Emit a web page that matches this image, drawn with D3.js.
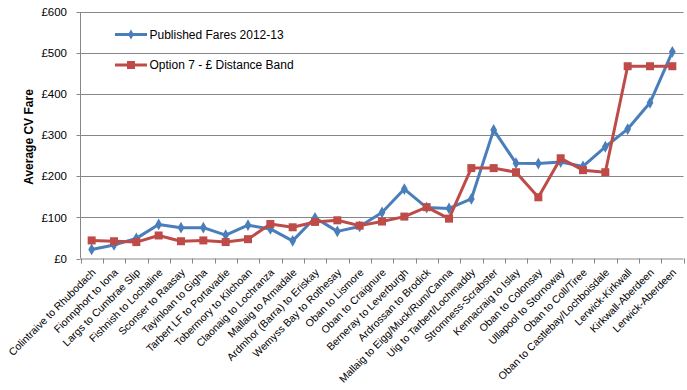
<!DOCTYPE html>
<html><head><meta charset="utf-8">
<script src="https://cdn.jsdelivr.net/npm/d3@7"></script>
<style>body{margin:0;background:#fff}svg{display:block;font-family:"Liberation Sans",Arial,sans-serif}</style>
</head><body><svg id="c" width="687" height="390"></svg>
<script>
const categories = ["Colintraive to Rhubodach","Fionnphort to Iona","Largs to Cumbrae Slip","Fishnish to Lochaline","Sconser to Raasay","Tayinloan to Gigha","Tarbert LF to Portavadie","Tobermory to Kilchoan","Claonaig to Lochranza","Mallaig to Armadale","Ardmhor (Barra) to Eriskay","Wemyss Bay to Rothesay","Oban to Lismore","Oban to Craignure","Berneray to Leverburgh","Ardrossan to Brodick","Mallaig to Eigg/Muck/Rum/Canna","Uig to Tarbert/Lochmaddy","Stromness-Scrabster","Kennacraig to Islay","Oban to Colonsay","Ullapool to Stornoway","Oban to Coll/Tiree","Oban to Castlebay/Lochboisdale","Lerwick-Kirkwall","Kirkwall-Aberdeen","Lerwick-Aberdeen"];
const publishedFares = [22,33,49,83,75,75,57,81,72,43,99,66,78,112,169,124,122,145,313,232,231,235,224,272,315,379,503];
const option7 = [44,42,40,56,42,44,40,47,84,76,89,93,80,90,102,125,97,220,220,210,149,244,215,210,468,468,468];
const yTicks = [0,100,200,300,400,500,600];
const seriesNames = ["Published Fares 2012-13","Option 7 - £ Distance Band"];

const svg = d3.select("#c");
const pLeft = 80.5, pRight = 683.5, pTop = 12, pBottom = 258.5;
const x = d3.scaleBand().domain(categories).range([pLeft, pRight]).padding(0);
const y = d3.scaleLinear().domain([0,600]).range([pBottom, pTop]);
const grid = "#878787";

// gridlines
svg.append("g").selectAll("line").data(yTicks.filter(d=>d>0)).join("line")
  .attr("x1", pLeft).attr("x2", pRight)
  .attr("y1", d=>Math.round(y(d))+0.5).attr("y2", d=>Math.round(y(d))+0.5)
  .attr("stroke", grid).attr("stroke-width",1);

// y axis
const yAxis = svg.append("g");
yAxis.append("line").attr("x1",pLeft).attr("x2",pLeft).attr("y1",pTop).attr("y2",pBottom).attr("stroke",grid);
yAxis.selectAll("line.t").data(yTicks).join("line").attr("class","t")
  .attr("x1",pLeft-4).attr("x2",pLeft).attr("y1",d=>Math.round(y(d))+0.5).attr("y2",d=>Math.round(y(d))+0.5).attr("stroke",grid);
yAxis.selectAll("text").data(yTicks).join("text")
  .attr("x",67).attr("y",d=>y(d)).attr("dy","0.36em").attr("text-anchor","end")
  .attr("font-size","11.5px").attr("fill","#000").text(d=>"£"+d);

// x axis
const xAxis = svg.append("g");
xAxis.append("line").attr("x1",pLeft).attr("x2",pRight).attr("y1",pBottom+0.5).attr("y2",pBottom+0.5).attr("stroke",grid);
const bounds = categories.map(c=>x(c)).concat([pRight]);
xAxis.selectAll("line.t").data(bounds).join("line").attr("class","t")
  .attr("x1",d=>Math.round(d)+0.5).attr("x2",d=>Math.round(d)+0.5).attr("y1",pBottom).attr("y2",pBottom+5).attr("stroke",grid);
xAxis.selectAll("text").data(categories).join("text")
  .attr("transform",d=>`translate(${x(d)+x.bandwidth()/2+2},${pBottom+12}) rotate(-45)`)
  .attr("text-anchor","end").attr("dy","0.35em").attr("font-size","10.5px").attr("fill","#000").text(d=>d);

// y title
svg.append("text").attr("transform","translate(33,137) rotate(-90)").attr("text-anchor","middle")
  .attr("font-size","12px").attr("font-weight","bold").text("Average CV Fare");

const cx = d=>x(d)+x.bandwidth()/2;
const line = d3.line().x((d,i)=>cx(categories[i])).y(d=>y(d));
const blue = "#4A7EBB", red = "#BE4B48";

svg.append("path").datum(publishedFares).attr("d",line).attr("fill","none").attr("stroke",blue).attr("stroke-width",3).attr("stroke-linejoin","round");
svg.append("g").selectAll("path").data(publishedFares).join("path")
  .attr("d",d3.symbol(d3.symbolDiamond,40)).attr("transform",(d,i)=>`translate(${cx(categories[i])},${y(d)})`).attr("fill",blue);

svg.append("path").datum(option7).attr("d",line).attr("fill","none").attr("stroke",red).attr("stroke-width",3).attr("stroke-linejoin","round");
svg.append("g").selectAll("rect").data(option7).join("rect")
  .attr("x",(d,i)=>cx(categories[i])-4).attr("y",d=>y(d)-4).attr("width",8).attr("height",8).attr("fill",red);

// legend
const lg = svg.append("g");
const ly = [34.5, 65];
const cols = [blue, red];
seriesNames.forEach((n,i)=>{
  lg.append("line").attr("x1",115).attr("x2",147).attr("y1",ly[i]).attr("y2",ly[i]).attr("stroke",cols[i]).attr("stroke-width",3);
  if(i===0) lg.append("path").attr("d",d3.symbol(d3.symbolDiamond,30)).attr("transform",`translate(131,${ly[i]})`).attr("fill",cols[i]);
  else lg.append("rect").attr("x",127).attr("y",ly[i]-4).attr("width",8).attr("height",8).attr("fill",cols[i]);
  lg.append("text").attr("x",149.5).attr("y",ly[i]).attr("dy","0.35em").attr("font-size","12px").text(n);
});
</script></body></html>
